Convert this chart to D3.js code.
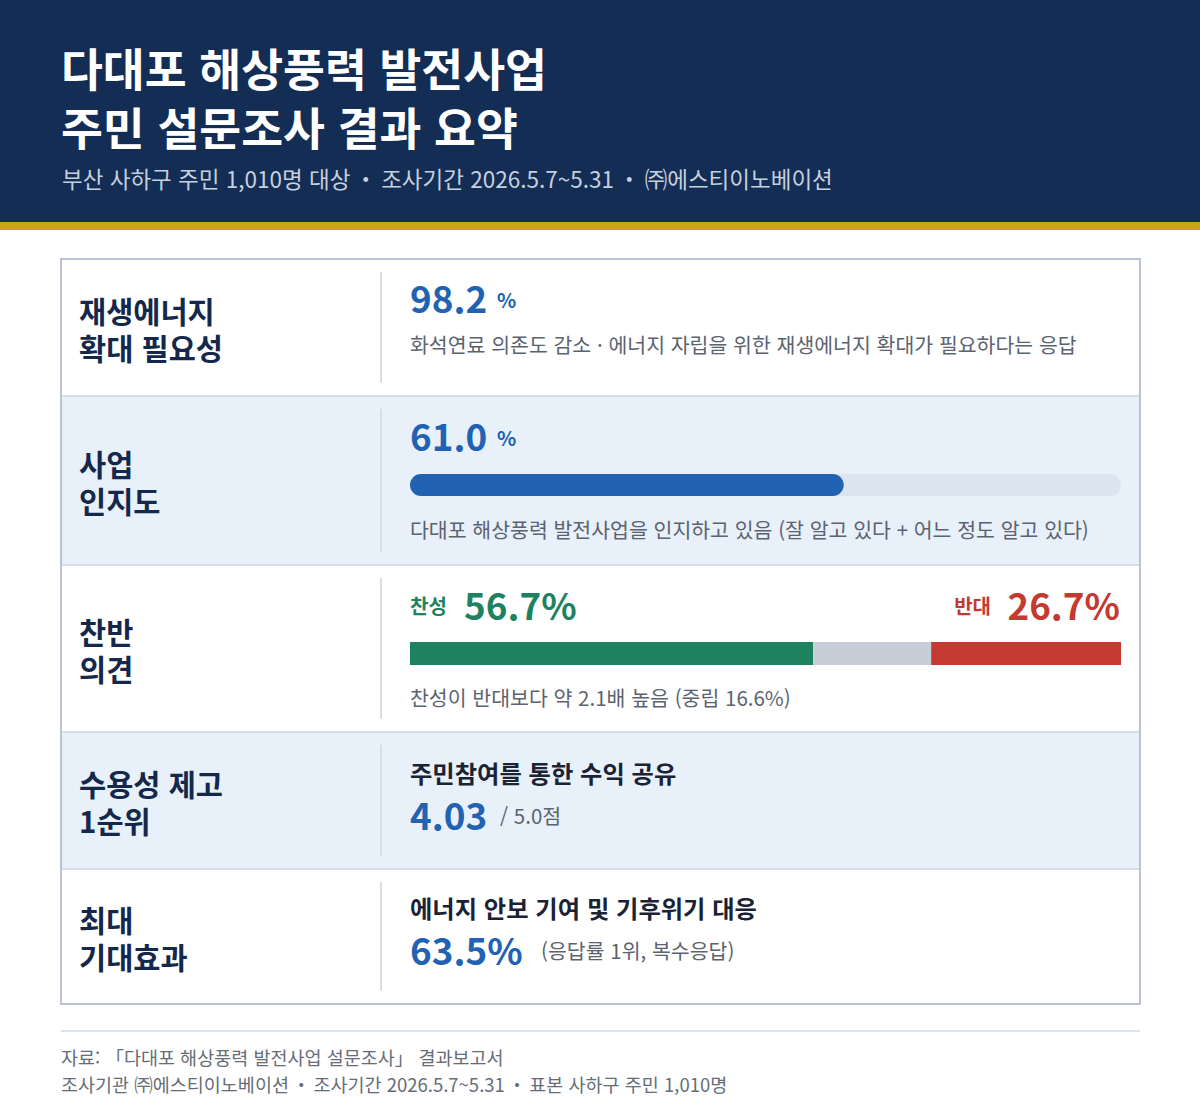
<!DOCTYPE html>
<html lang="ko">
<head>
<meta charset="utf-8">
<script src="https://cdn.jsdelivr.net/npm/d3@7/dist/d3.min.js"></script>
<style>
  html, body { margin: 0; padding: 0; background: #ffffff; }
  svg { display: block; font-family: "Noto Sans CJK KR", "Noto Sans", sans-serif; }
  .sep { font-feature-settings: "fwid" 1; }
</style>
</head>
<body>
<svg id="chart" width="1200" height="1100"></svg>
<script>
// ---- data ----
const titleLines = ["다대포 해상풍력 발전사업", "주민 설문조사 결과 요약"]
const subtitle = "부산 사하구 주민 1,010명 대상 · 조사기간 2026.5.7~5.31 · ㈜에스티이노베이션"

const rowLabels = [
  ["재생에너지", "확대 필요성"],
  ["사업", "인지도"],
  ["찬반", "의견"],
  ["수용성 제고", "1순위"],
  ["최대", "기대효과"]
]

const needValue = 98.2
const needNote = "화석연료 의존도 감소 · 에너지 자립을 위한 재생에너지 확대가 필요하다는 응답"

const awareValue = 61.0
const awareNote = "다대포 해상풍력 발전사업을 인지하고 있음 (잘 알고 있다 + 어느 정도 알고 있다)"

const opinionKeys = ["찬성", "중립", "반대"]
const opinionValues = [56.7, 16.6, 26.7]
const opinionNote = "찬성이 반대보다 약 2.1배 높음 (중립 16.6%)"

const topMeasure = "주민참여를 통한 수익 공유"
const topScore = 4.03
const scoreMax = "5.0"

const topEffect = "에너지 안보 기여 및 기후위기 대응"
const effectShare = 63.5
const effectNote = "(응답률 1위, 복수응답)"

const footerLines = [
  "자료: 「다대포 해상풍력 발전사업 설문조사」 결과보고서",
  "조사기관 ㈜에스티이노베이션 · 조사기간 2026.5.7~5.31 · 표본 사하구 주민 1,010명"
]

// ---- layout ----
const W = 1200
const navy = "#132d55"
const gold = "#c9a227"
const blue = "#2162b3"
const green = "#1e8260"
const red = "#c43a31"
const neutral = "#c7ced8"
const labelColor = "#14284b"
const noteColor = "#5c6370"
const rowTint = "#e8f0f9"
const lineColor = "#d7dee8"

const cardX0 = 61, cardX1 = 1140, cardY0 = 259
const rowHeights = [137, 169, 167, 137, 135]
const rowTops = rowHeights.map((h, i) => cardY0 + d3.sum(rowHeights.slice(0, i)))
const cardY1 = cardY0 + d3.sum(rowHeights)
const contentX = 410

const svg = d3.select("#chart")

// text with full-width separator dots, pulled in a little
function dotted(sel, str, tighten) {
  str.split("·").forEach((part, i) => {
    if (i > 0) sel.append("tspan").attr("class", "sep").attr("dx", -tighten).text("·")
    sel.append("tspan").attr("dx", i > 0 ? -tighten : 0).text(part)
  })
  return sel
}

// header
svg.append("rect").attr("width", W).attr("height", 222).attr("fill", navy)
svg.append("rect").attr("y", 222).attr("width", W).attr("height", 8).attr("fill", gold)

svg.selectAll(".title")
  .data(titleLines)
  .join("text")
  .attr("class", "title")
  .attr("x", 61)
  .attr("y", (d, i) => 87 + i * 59)
  .attr("fill", "#ffffff")
  .attr("font-size", 45.5)
  .attr("font-weight", 700)
  .text(d => d)

dotted(svg.append("text")
  .attr("x", 62).attr("y", 188)
  .attr("fill", "#c6d0df")
  .attr("font-size", 22.5), subtitle, 2.2)

// card rows
const rows = svg.selectAll(".row")
  .data(rowLabels)
  .join("g")
  .attr("class", "row")
  .attr("transform", (d, i) => `translate(0,${rowTops[i]})`)

rows.append("rect")
  .attr("x", cardX0).attr("width", cardX1 - cardX0)
  .attr("height", (d, i) => rowHeights[i])
  .attr("fill", (d, i) => i % 2 === 1 ? rowTint : "#ffffff")

rows.filter((d, i) => i > 0).append("line")
  .attr("x1", cardX0).attr("x2", cardX1)
  .attr("y1", 0).attr("y2", 0)
  .attr("stroke", lineColor).attr("stroke-width", 2)

rows.append("line")
  .attr("x1", 381).attr("x2", 381)
  .attr("y1", 13).attr("y2", (d, i) => rowHeights[i] - 13)
  .attr("stroke", lineColor).attr("stroke-width", 2)

rows.append("text")
  .attr("class", "label")
  .attr("y", (d, i) => rowHeights[i] / 2 - 5)
  .attr("fill", labelColor)
  .attr("font-size", 29.5)
  .attr("font-weight", 700)
  .selectAll("tspan")
  .data(d => d)
  .join("tspan")
  .attr("x", 79)
  .attr("dy", (d, j) => j === 0 ? 0 : 37)
  .text(d => d)

svg.append("rect")
  .attr("x", cardX0).attr("y", cardY0)
  .attr("width", cardX1 - cardX0).attr("height", cardY1 - cardY0)
  .attr("fill", "none").attr("stroke", "#b9c3d1").attr("stroke-width", 2)

const x = d3.scaleLinear().domain([0, 100]).range([contentX, 1121])

function bigNumber(g, xPos, y, text, color, anchor) {
  return g.append("text")
    .attr("x", xPos).attr("y", y)
    .attr("text-anchor", anchor || "start")
    .attr("fill", color)
    .attr("font-size", 36.8)
    .attr("font-weight", 700)
    .text(text)
}

function note(g, xPos, y, text) {
  return g.append("text")
    .attr("x", xPos).attr("y", y)
    .attr("fill", noteColor)
    .attr("font-size", 20.5)
    .text(text)
}

// row 1: need
const r1 = svg.append("g").attr("transform", `translate(0,${rowTops[0]})`)
bigNumber(r1, contentX, 54, d3.format(".1f")(needValue), blue)
r1.append("text").attr("x", 497).attr("y", 49).attr("fill", blue)
  .attr("font-size", 20).attr("font-weight", 700).text("%")
note(r1, contentX, 94, needNote)

// row 2: awareness
const r2 = svg.append("g").attr("transform", `translate(0,${rowTops[1]})`)
bigNumber(r2, contentX, 55, d3.format(".1f")(awareValue), blue)
r2.append("text").attr("x", 497).attr("y", 50).attr("fill", blue)
  .attr("font-size", 20).attr("font-weight", 700).text("%")
r2.append("rect")
  .attr("x", x(0)).attr("y", 78)
  .attr("width", x(100) - x(0)).attr("height", 22)
  .attr("rx", 11).attr("fill", "#dce4ef")
r2.append("rect")
  .attr("x", x(0)).attr("y", 78)
  .attr("width", x(awareValue) - x(0)).attr("height", 22)
  .attr("rx", 11).attr("fill", blue)
note(r2, contentX, 142, awareNote)

// row 3: opinion
const r3 = svg.append("g").attr("transform", `translate(0,${rowTops[2]})`)
const opinionRow = Object.fromEntries(opinionKeys.map((k, i) => [k, opinionValues[i]]))
const stacked = d3.stack().keys(opinionKeys)([opinionRow])
const opinionColor = d3.scaleOrdinal().domain(opinionKeys).range([green, neutral, red])

r3.selectAll(".seg")
  .data(stacked)
  .join("rect")
  .attr("class", "seg")
  .attr("x", d => x(d[0][0]))
  .attr("width", d => x(d[0][1]) - x(d[0][0]))
  .attr("y", 77).attr("height", 23)
  .attr("fill", d => opinionColor(d.key))

r3.append("text").attr("x", contentX).attr("y", 49)
  .attr("fill", green).attr("font-size", 20).attr("font-weight", 700)
  .text(opinionKeys[0])
bigNumber(r3, 464, 55, d3.format(".1f")(opinionValues[0]) + "%", green)
bigNumber(r3, 1120, 55, d3.format(".1f")(opinionValues[2]) + "%", red, "end")
r3.append("text").attr("x", 991).attr("y", 49).attr("text-anchor", "end")
  .attr("fill", red).attr("font-size", 20).attr("font-weight", 700)
  .text(opinionKeys[2])
note(r3, contentX, 141, opinionNote)

// row 4: top measure
const r4 = svg.append("g").attr("transform", `translate(0,${rowTops[3]})`)
r4.append("text").attr("x", contentX).attr("y", 51)
  .attr("fill", "#1b2233").attr("font-size", 24.3).attr("font-weight", 700)
  .text(topMeasure)
bigNumber(r4, contentX, 98, d3.format(".2f")(topScore), blue)
note(r4, 500, 92, `/ ${scoreMax}점`)

// row 5: top effect
const r5 = svg.append("g").attr("transform", `translate(0,${rowTops[4]})`)
r5.append("text").attr("x", contentX).attr("y", 49)
  .attr("fill", "#1b2233").attr("font-size", 24.3).attr("font-weight", 700)
  .text(topEffect)
bigNumber(r5, contentX, 96, d3.format(".1f")(effectShare) + "%", blue)
note(r5, 541, 90, effectNote)

// footer
svg.append("line")
  .attr("x1", cardX0).attr("x2", cardX1)
  .attr("y1", 1031).attr("y2", 1031)
  .attr("stroke", "#dde3ec").attr("stroke-width", 2)

svg.selectAll(".foot")
  .data(footerLines)
  .join("text")
  .attr("class", "foot")
  .attr("x", 61)
  .attr("y", (d, i) => 1065 + i * 27)
  .attr("fill", "#666d78")
  .attr("font-size", 18.5)
  .each(function (d) { dotted(d3.select(this), d, 2.2) })
</script>
</body>
</html>
